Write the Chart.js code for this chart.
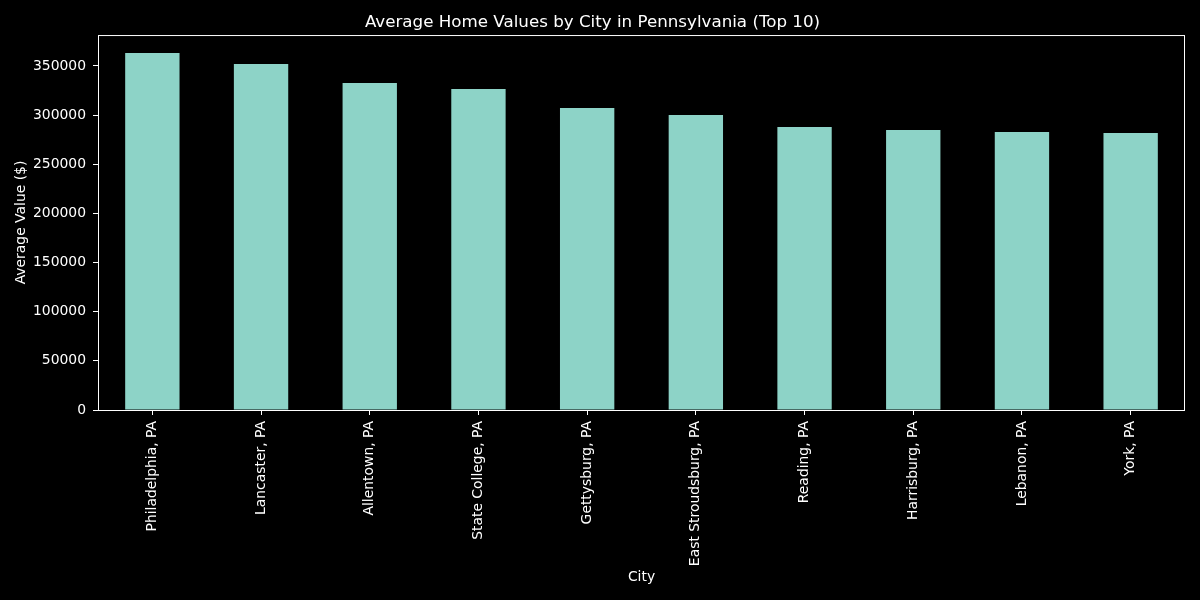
<!DOCTYPE html>
<html>
<head>
<meta charset="utf-8">
<script src="https://cdn.jsdelivr.net/npm/chart.js"></script>
<style>
html, body { margin: 0; padding: 0; background: #000; }
#wrap { width: 1200px; height: 600px; }
</style>
</head>
<body>
<div id="wrap"><canvas id="bar-chart"></canvas></div>
<script>
// values
var cities = ["Philadelphia, PA", "Lancaster, PA", "Allentown, PA", "State College, PA", "Gettysburg, PA",
              "East Stroudsburg, PA", "Reading, PA", "Harrisburg, PA", "Lebanon, PA", "York, PA"];
var avgValues = [363200, 352000, 332700, 326600, 307300, 300100, 287900, 284900, 282800, 281800];
var yTicks = [0, 50000, 100000, 150000, 200000, 250000, 300000, 350000];

Chart.defaults.font.family = "'DejaVu Sans', sans-serif";
Chart.defaults.color = "#ffffff";

// white frame round the plot, like the matplotlib axes
var frame = {
  id: "frame",
  afterDraw: function(chart) {
    var a = chart.chartArea, c = chart.ctx;
    c.save();
    c.strokeStyle = "#ffffff";
    c.lineWidth = 1;
    c.strokeRect(a.left + 0.5, a.top + 0.5, a.right - a.left - 1, a.bottom - a.top);
    c.restore();
  }
};

new Chart(document.getElementById("bar-chart"), {
  type: "bar",
  data: {
    labels: cities,
    datasets: [{
      label: "Average Value ($)",
      data: avgValues,
      backgroundColor: "#8dd3c7",
      borderWidth: 0,
      inflateAmount: 0,
      barPercentage: 0.5,
      categoryPercentage: 1.0
    }]
  },
  options: {
    responsive: true,
    maintainAspectRatio: false,
    animation: false,
    layout: { padding: { left: 0, right: 15, top: 0, bottom: 0 } },
    plugins: {
      legend: { display: false },
      tooltip: { enabled: false },
      title: {
        display: true,
        text: "Average Home Values by City in Pennsylvania (Top 10)",
        color: "#ffffff",
        font: { size: 16.7, weight: "normal" },
        padding: { top: 13, bottom: 2 }
      }
    },
    scales: {
      x: {
        offset: true,
        grid: { display: true, offset: false, drawOnChartArea: false, drawTicks: true, tickLength: 5, color: "#ffffff" },
        border: { display: false },
        ticks: { autoSkip: false, maxRotation: 90, minRotation: 90, padding: 6, font: { size: 13.9 }, color: "#ffffff" },
        title: { display: true, text: "City", color: "#ffffff", font: { size: 13.9 }, padding: { top: 4, bottom: 14 } },
        afterFit: function(s) { s.height = 190; }
      },
      y: {
        min: 0,
        max: 381400,
        afterBuildTicks: function(s) { s.ticks = yTicks.map(function(v) { return { value: v }; }); },
        grid: { display: true, drawOnChartArea: false, drawTicks: true, tickLength: 5, color: "#ffffff" },
        border: { display: false },
        ticks: { padding: 7, font: { size: 13.9 }, color: "#ffffff", callback: function(v) { return String(v); } },
        title: { display: true, text: "Average Value ($)", color: "#ffffff", font: { size: 13.9 }, padding: { top: 13, bottom: 0 } },
        afterFit: function(s) { s.width = 98; }
      }
    }
  },
  plugins: [frame]
});
</script>
</body>
</html>
